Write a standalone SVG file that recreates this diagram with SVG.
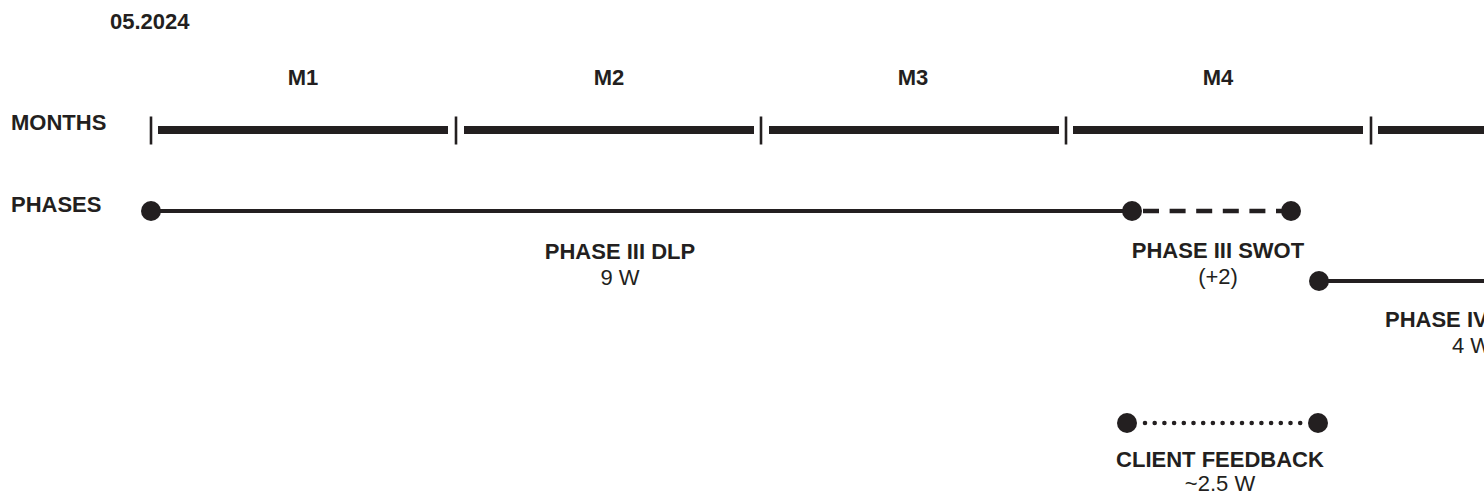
<svg xmlns="http://www.w3.org/2000/svg" width="1484" height="498" viewBox="0 0 1484 498">
<style>
text{font-family:"Liberation Sans",Arial,sans-serif;fill:#231f20;font-size:22px}
.b{font-weight:bold}
.c{text-anchor:middle}
.bar{fill:#231f20}
.tick{stroke:#231f20;stroke-width:2.6}
.dot{fill:#231f20}
.solid{stroke:#231f20;stroke-width:4;fill:none}
.dash{stroke:#231f20;stroke-width:4.5;fill:none;stroke-dasharray:16 10.6}
.dots{stroke:#231f20;stroke-width:4.6;fill:none;stroke-linecap:round;stroke-dasharray:0 9.7}
</style>
<rect width="1484" height="498" fill="#fff"/>
<g id="labels">
<text class="b" x="110" y="29">05.2024</text>
<text class="b" x="11" y="130">MONTHS</text>
<text class="b" x="11" y="212">PHASES</text>
</g>
<g id="months">
<text class="b c" x="303" y="85">M1</text>
<text class="b c" x="609" y="85">M2</text>
<text class="b c" x="913" y="85">M3</text>
<text class="b c" x="1218" y="85">M4</text>
<line class="tick" x1="151" y1="116.5" x2="151" y2="144.5"/>
<line class="tick" x1="456" y1="116.5" x2="456" y2="144.5"/>
<line class="tick" x1="761" y1="116.5" x2="761" y2="144.5"/>
<line class="tick" x1="1066" y1="116.5" x2="1066" y2="144.5"/>
<line class="tick" x1="1371" y1="116.5" x2="1371" y2="144.5"/>
<rect class="bar" x="158" y="126" width="290" height="8"/>
<rect class="bar" x="464" y="126" width="290" height="8"/>
<rect class="bar" x="769" y="126" width="290" height="8"/>
<rect class="bar" x="1073" y="126" width="290" height="8"/>
<rect class="bar" x="1378" y="126" width="110" height="8"/>
</g>
<g id="connectors">
<line class="solid" x1="151" y1="211" x2="1132" y2="211"/>
<line class="dash" x1="1143" y1="211" x2="1283" y2="211"/>
<line class="solid" x1="1319" y1="281" x2="1490" y2="281"/>
<line class="dots" x1="1145" y1="423" x2="1302" y2="423"/>
</g>
<g id="phase3-dlp">
<circle class="dot" cx="151" cy="211" r="10"/>
<text class="b c" x="620" y="259">PHASE III DLP</text>
<text class="c" x="620" y="285">9 W</text>
</g>
<g id="phase3-swot">
<circle class="dot" cx="1132" cy="211" r="10"/>
<circle class="dot" cx="1291" cy="211" r="10"/>
<text class="b c" x="1218" y="258">PHASE III SWOT</text>
<text class="c" x="1218" y="284">(+2)</text>
</g>
<g id="phase4">
<circle class="dot" cx="1319" cy="281" r="10"/>
<text class="b" x="1385" y="327">PHASE IV</text>
<text x="1452" y="353">4 W</text>
</g>
<g id="client-feedback">
<circle class="dot" cx="1127" cy="423" r="10"/>
<circle class="dot" cx="1318" cy="423" r="10"/>
<text class="b c" x="1220" y="467">CLIENT FEEDBACK</text>
<text class="c" x="1220" y="491">~2.5 W</text>
</g>
</svg>
